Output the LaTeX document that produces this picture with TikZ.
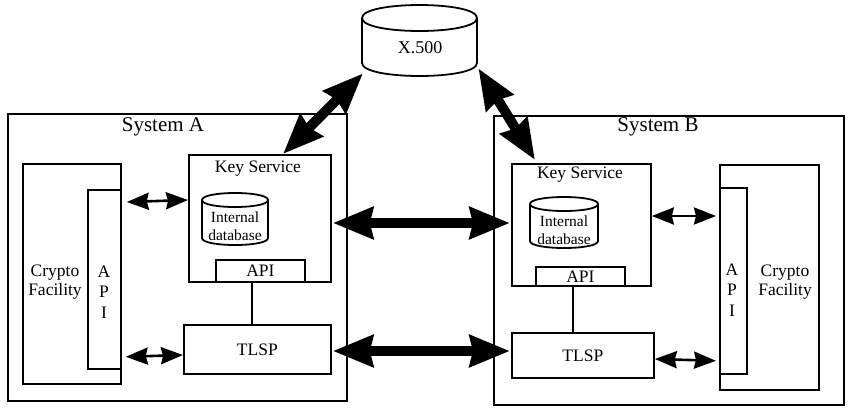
\documentclass[tikz,border=0pt]{standalone}
\usepackage{fontspec}
\setmainfont{Liberation Serif}
\usetikzlibrary{arrows.meta,calc}

% draws an upright cylinder between x-range (#1,#2), y-range (#3,#4), ellipse half-height #5
\newcommand{\drumshape}[5]{%
  \draw[outline]
    (#1,#3+#5) -- (#1,#4-#5)
    .. controls (#1,#4+0.333*#5) and (#2,#4+0.333*#5) .. (#2,#4-#5)
    -- (#2,#3+#5);
  \draw[outline]
    (#1,#3+#5) .. controls (#1,#3-0.333*#5) and (#2,#3-0.333*#5) .. (#2,#3+#5)
    .. controls (#2,#3+2.333*#5) and (#1,#3+2.333*#5) .. (#1,#3+#5);
}

\begin{document}
\begin{tikzpicture}[x=1pt,y=-1pt,
  outline/.style={line width=1.8pt},
  box/.style={draw, line width=1.8pt, fill=white, inner sep=0pt, anchor=north west},
  lbl/.style={font=\fontsize{17.5}{19.5}\selectfont, inner sep=0pt, align=center},
  sys/.style={font=\fontsize{21}{23}\selectfont, inner sep=0pt},
  big/.style={line width=10pt,
    {Stealth[length=40pt,width=31pt,inset=3pt]}-{Stealth[length=40pt,width=31pt,inset=3pt]}},
  small/.style={line width=2.6pt,
    {Stealth[length=22pt,width=17pt,inset=2pt]}-{Stealth[length=22pt,width=17pt,inset=2pt]}},
  link/.style={line width=1.5pt}
]
\useasboundingbox (0,0) rectangle (849,408);

% ---------- System A ----------
\node[box, minimum width=339pt, minimum height=287pt] (sysA) at (7,113) {};
\node[sys] (sysAlbl) at (163,127) {System A};

\node[box, minimum width=98pt, minimum height=220pt] (cryptoA) at (22,163) {};
\node[box, minimum width=33pt, minimum height=179pt] (apiA) at (87,189) {};
\node[lbl, anchor=center] (cryptoAlbl) at (55,282) {Crypto\\Facility};
\node[lbl, anchor=center] (apiAlbl) at (104,292) {A\\[1pt]P\\[1pt]I};

\node[box, minimum width=142pt, minimum height=127pt] (keyA) at (188,154) {};
\node[lbl] (keyAlbl) at (258,169) {Key Service};
\drumshape{202}{268}{193}{245}{7}
\node[lbl, font=\fontsize{15.5}{18}\selectfont] (dbA) at (235,226) {Internal\\database};
\node[box, minimum width=89pt, minimum height=22pt] (kapiA) at (215,259) {};
\node[lbl] (kapiAlbl) at (kapiA.center) {API};

\node[box, minimum width=147pt, minimum height=49pt] (tlspA) at (183,324) {};
\node[lbl] (tlspAlbl) at (tlspA.center) {TLSP};

% ---------- System B ----------
\node[box, minimum width=350pt, minimum height=289pt] (sysB) at (493,115) {};
\node[sys] (sysBlbl) at (658,127) {System B};

\node[box, minimum width=99pt, minimum height=225pt] (cryptoB) at (719,164) {};
\node[box, minimum width=27pt, minimum height=186pt] (apiB) at (719,187) {};
\node[lbl, anchor=center] (cryptoBlbl) at (785,282) {Crypto\\Facility};
\node[lbl, anchor=center] (apiBlbl) at (732,290) {A\\[1pt]P\\[1pt]I};

\node[box, minimum width=139pt, minimum height=122pt] (keyB) at (511,163) {};
\node[lbl] (keyBlbl) at (580,175) {Key Service};
\drumshape{530}{598}{197}{248}{7}
\node[lbl, font=\fontsize{15.5}{18}\selectfont] (dbB) at (564,230) {Internal\\database};
\node[box, minimum width=89pt, minimum height=19pt] (kapiB) at (535,266) {};
\node[lbl] (kapiBlbl) at (kapiB.center) {API};

\node[box, minimum width=142pt, minimum height=45pt] (tlspB) at (511,332) {};
\node[lbl] (tlspBlbl) at (tlspB.center) {TLSP};

% ---------- X.500 directory ----------
\node[inner sep=0pt, minimum width=115pt, minimum height=71pt, anchor=north west] (x500) at (362,5) {};
\drumshape{362}{477}{5}{76}{13}
\node[lbl, font=\fontsize{18}{20}\selectfont] (x500lbl) at (420,48) {X.500};

% ---------- internal links ----------
\coordinate (la) at ($(kapiA.south west)+(37,0)$);
\draw[link] (la) -- (la |- tlspA.north);
\coordinate (lb) at ($(kapiB.south west)+(38,0)$);
\draw[link] (lb) -- (lb |- tlspB.north);

% ---------- small exchanges ----------
\draw[small] ($(apiA.north east)+(5,13)$) -- ($(keyA.north west)+(0,46)$);
\draw[small] ($(apiA.south east)+(4,-13)$) -- ($(tlspA.north west)+(0,31)$);
\draw[small] ($(keyB.north east)+(0,53)$) -- ($(apiB.north west)+(-3,29)$);
\draw[small] ($(tlspB.north east)+(0,27)$) -- ($(apiB.south west)+(-3,-14)$);

% ---------- heavy exchanges ----------
\draw[big] ($(keyA.north east)+(1,69)$) -- ($(keyB.north west)+(-1,60)$);
\draw[big] ($(tlspA.north east)+(1,27)$) -- ($(tlspB.north west)+(-1,19)$);
\draw[big] ($(x500.south west)+(1,-3)$) -- ($(keyA.north west)+(95,0)$);
\draw[big] ($(x500.south east)+(1,-8)$) -- ($(keyB.north west)+(24,-3)$);
\end{tikzpicture}
\end{document}
